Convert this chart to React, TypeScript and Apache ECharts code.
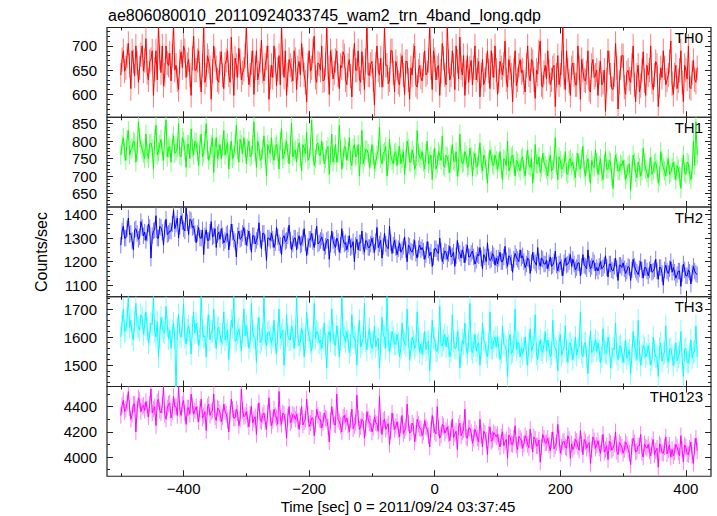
import React, { useEffect, useRef } from "react";
import * as echarts from "echarts";

// time sampling of the light curves (seconds from 2011/09/24 03:37:45)
// *_A samples sit at T_START + k*T_STEP, *_B samples half a step later
const T_START = -500;
const T_STEP = 4;

const TH0_A = [
  640, 690, 655, 705, 612, 668, 700, 625, 682, 648,
  715, 630, 672, 598, 690, 742, 645, 618, 700, 660,
  628, 745, 660, 610, 688, 700, 635, 672, 598, 720,
  650, 690, 605, 742, 640, 668, 590, 700, 655, 625,
  688, 612, 670, 640, 718, 598, 660, 695, 630, 652,
  742, 620, 665, 600, 690, 645, 712, 628, 675, 590,
  660, 700, 618, 680, 742, 635, 598, 672, 650, 690,
  610, 668, 705, 640, 585, 690, 655, 720, 625, 662,
  700, 630, 742, 600, 668, 645, 690, 612, 655, 680,
  620, 672, 595, 705, 650, 632, 688, 610, 742, 640,
  668, 578, 700, 640, 615, 742, 660, 630, 690, 605,
  655, 620, 680, 600, 668, 590, 640, 700, 615, 660,
  628, 690, 645, 742, 610, 672, 655, 598, 705, 640,
  742, 630, 690, 610, 668, 718, 640, 598, 680, 655,
  620, 700, 650, 595, 672, 630, 690, 612, 660, 700,
  600, 668, 640, 710, 615, 655, 585, 690, 630, 672,
  650, 605, 700, 628, 668, 592, 642, 710, 615, 660,
  690, 620, 655, 575, 680, 640, 742, 610, 650, 598,
  665, 620, 700, 590, 650, 628, 690, 605, 672, 640,
  598, 668, 625, 565, 690, 640, 610, 705, 570, 655,
  680, 600, 650, 625, 700, 585, 660, 618, 688, 598,
  640, 700, 610, 668, 575, 655, 690, 620, 640, 710,
  600, 660, 628, 690, 585, 650, 700, 612, 670, 625,
];
const TH0_B = [
  672, 648, 680, 660, 690, 638, 665, 655, 700, 670,
  645, 668, 690, 652, 630, 675, 700, 640, 665, 685,
  680, 650, 630, 668, 655, 690, 662, 640, 675, 650,
  670, 640, 660, 625, 680, 655, 648, 672, 630, 665,
  640, 662, 690, 625, 658, 675, 635, 668, 645, 680,
  660, 640, 690, 655, 630, 670, 648, 660, 700, 635,
  635, 670, 652, 620, 665, 690, 640, 660, 628, 672,
  655, 640, 672, 625, 660, 648, 690, 635, 665, 650,
  628, 662, 655, 690, 632, 670, 640, 660, 688, 630,
  660, 638, 668, 650, 690, 625, 655, 670, 640, 662,
  630, 662, 650, 675, 640, 660, 622, 690, 645, 668,
  625, 660, 640, 668, 630, 655, 680, 620, 648, 635,
  662, 640, 670, 655, 690, 630, 660, 648, 675, 620,
  668, 640, 660, 700, 632, 655, 680, 645, 625, 670,
  655, 630, 668, 640, 620, 660, 648, 690, 635, 650,
  628, 655, 662, 630, 672, 640, 650, 618, 660, 645,
  625, 660, 640, 672, 630, 650, 688, 620, 645, 632,
  648, 630, 660, 640, 620, 665, 635, 690, 628, 655,
  640, 620, 655, 672, 630, 645, 610, 660, 635, 650,
  645, 620, 650, 630, 665, 612, 640, 655, 625, 680,
  615, 645, 632, 660, 620, 640, 605, 650, 628, 660,
  650, 625, 640, 660, 618, 635, 655, 630, 668, 622,
  640, 612, 650, 625, 660, 632, 615, 645, 630, 655,
];

const TH1_A = [
  760, 810, 745, 830, 775, 800, 740, 855, 790, 765,
  820, 750, 795, 720, 845, 770, 805, 745, 860, 780,
  740, 815, 770, 850, 755, 800, 725, 790, 835, 760,
  795, 730, 820, 765, 850, 745, 790, 710, 810, 770,
  750, 830, 780, 720, 800, 760, 845, 740, 790, 810,
  735, 800, 760, 855, 725, 785, 750, 815, 700, 775,
  810, 745, 790, 720, 835, 760, 800, 735, 850, 770,
  740, 795, 715, 780, 825, 750, 860, 730, 790, 760,
  800, 735, 775, 705, 820, 760, 740, 845, 720, 785,
  745, 810, 730, 790, 760, 700, 830, 755, 775, 725,
  790, 720, 760, 840, 735, 770, 700, 805, 745, 765,
  730, 785, 750, 705, 800, 740, 775, 720, 830, 755,
  770, 720, 800, 745, 690, 780, 735, 760, 815, 725,
  755, 710, 790, 740, 700, 820, 735, 770, 725, 780,
  700, 765, 730, 795, 715, 750, 680, 775, 735, 760,
  720, 770, 690, 745, 800, 725, 760, 700, 740, 715,
  755, 700, 775, 725, 680, 790, 735, 710, 765, 730,
  700, 760, 720, 810, 690, 745, 725, 770, 705, 750,
  740, 695, 765, 720, 785, 700, 750, 680, 730, 775,
  705, 750, 690, 770, 720, 740, 665, 760, 715, 735,
  745, 690, 730, 660, 760, 710, 740, 700, 780, 720,
  695, 755, 715, 740, 680, 770, 725, 700, 750, 710,
  740, 690, 720, 665, 760, 705, 735, 690, 800, 855,
];
const TH1_B = [
  790, 770, 805, 760, 780, 795, 768, 810, 775, 750,
  765, 792, 778, 805, 760, 790, 770, 815, 755, 785,
  795, 765, 780, 760, 810, 775, 790, 750, 780, 800,
  770, 790, 755, 800, 775, 760, 810, 780, 750, 790,
  785, 760, 795, 770, 750, 790, 775, 805, 765, 780,
  780, 755, 790, 770, 800, 745, 775, 760, 790, 765,
  760, 785, 770, 800, 750, 780, 765, 790, 755, 775,
  780, 755, 790, 765, 745, 785, 770, 750, 795, 760,
  770, 750, 785, 760, 740, 790, 765, 775, 750, 780,
  770, 745, 780, 755, 790, 760, 735, 775, 765, 750,
  760, 740, 775, 750, 765, 785, 745, 760, 735, 770,
  760, 735, 770, 750, 780, 740, 760, 730, 765, 750,
  740, 765, 735, 760, 750, 720, 770, 745, 730, 760,
  735, 760, 745, 770, 725, 750, 740, 760, 730, 755,
  745, 725, 755, 735, 760, 720, 740, 755, 730, 745,
  740, 720, 750, 730, 715, 755, 735, 745, 725, 750,
  720, 745, 730, 750, 715, 735, 755, 725, 740, 720,
  740, 715, 745, 730, 755, 720, 735, 710, 745, 730,
  715, 740, 725, 750, 720, 735, 710, 745, 725, 740,
  730, 710, 735, 720, 745, 700, 725, 740, 715, 730,
  720, 705, 735, 715, 740, 695, 725, 715, 740, 710,
  725, 705, 735, 720, 700, 740, 715, 730, 705, 725,
  715, 730, 700, 725, 710, 740, 705, 720, 730, 760,
];

const TH2_A = [
  1270, 1350, 1300, 1385, 1320, 1250, 1340, 1295, 1370, 1310,
  1290, 1360, 1215, 1330, 1395, 1300, 1345, 1270, 1380, 1320,
  1330, 1420, 1360, 1300, 1395, 1340, 1430, 1315, 1375, 1350,
  1280, 1345, 1300, 1230, 1335, 1290, 1370, 1310, 1260, 1325,
  1340, 1280, 1315, 1250, 1360, 1295, 1220, 1330, 1300, 1345,
  1270, 1330, 1240, 1310, 1290, 1365, 1255, 1320, 1205, 1300,
  1320, 1260, 1345, 1280, 1230, 1310, 1290, 1355, 1250, 1300,
  1250, 1310, 1275, 1340, 1225, 1295, 1320, 1260, 1350, 1280,
  1305, 1245, 1290, 1210, 1330, 1270, 1300, 1240, 1340, 1275,
  1250, 1310, 1265, 1200, 1295, 1280, 1330, 1240, 1285, 1260,
  1300, 1240, 1345, 1275, 1215, 1320, 1260, 1350, 1235, 1290,
  1230, 1280, 1250, 1305, 1200, 1265, 1240, 1290, 1215, 1270,
  1260, 1210, 1285, 1225, 1180, 1255, 1240, 1300, 1200, 1245,
  1210, 1265, 1225, 1180, 1290, 1235, 1250, 1195, 1270, 1220,
  1245, 1190, 1230, 1260, 1170, 1220, 1280, 1205, 1235, 1185,
  1190, 1240, 1200, 1265, 1180, 1220, 1155, 1235, 1210, 1250,
  1225, 1175, 1215, 1150, 1240, 1195, 1260, 1180, 1210, 1190,
  1170, 1220, 1185, 1245, 1160, 1200, 1140, 1215, 1190, 1230,
  1210, 1165, 1195, 1140, 1230, 1180, 1250, 1170, 1205, 1160,
  1160, 1200, 1175, 1225, 1135, 1190, 1160, 1215, 1120, 1185,
  1195, 1150, 1180, 1120, 1210, 1165, 1145, 1200, 1130, 1175,
  1140, 1190, 1160, 1210, 1125, 1175, 1100, 1185, 1150, 1200,
  1175, 1130, 1160, 1095, 1190, 1140, 1165, 1105, 1180, 1150,
];
const TH2_B = [
  1330, 1300, 1340, 1315, 1290, 1335, 1320, 1305, 1345, 1325,
  1320, 1345, 1310, 1335, 1300, 1350, 1325, 1340, 1315, 1330,
  1360, 1340, 1385, 1350, 1370, 1330, 1365, 1380, 1345, 1320,
  1320, 1300, 1335, 1310, 1290, 1325, 1305, 1340, 1315, 1295,
  1310, 1290, 1320, 1300, 1325, 1285, 1310, 1295, 1320, 1305,
  1300, 1285, 1310, 1275, 1305, 1295, 1320, 1280, 1300, 1290,
  1295, 1280, 1305, 1270, 1300, 1285, 1310, 1290, 1275, 1300,
  1290, 1270, 1300, 1280, 1265, 1295, 1285, 1305, 1275, 1290,
  1285, 1265, 1295, 1275, 1290, 1260, 1285, 1270, 1295, 1280,
  1275, 1260, 1285, 1270, 1250, 1280, 1265, 1290, 1260, 1275,
  1270, 1285, 1260, 1290, 1265, 1275, 1255, 1280, 1270, 1260,
  1255, 1240, 1265, 1250, 1270, 1245, 1260, 1235, 1255, 1250,
  1245, 1230, 1250, 1240, 1220, 1255, 1235, 1245, 1225, 1240,
  1235, 1220, 1240, 1225, 1245, 1215, 1230, 1240, 1220, 1235,
  1220, 1205, 1225, 1215, 1230, 1200, 1220, 1210, 1225, 1215,
  1215, 1200, 1220, 1205, 1225, 1195, 1210, 1220, 1200, 1215,
  1200, 1190, 1210, 1195, 1205, 1185, 1200, 1215, 1190, 1205,
  1195, 1180, 1200, 1185, 1190, 1175, 1195, 1185, 1200, 1180,
  1190, 1175, 1195, 1180, 1185, 1170, 1190, 1180, 1195, 1175,
  1180, 1170, 1185, 1175, 1190, 1165, 1180, 1170, 1185, 1175,
  1170, 1160, 1175, 1165, 1180, 1155, 1170, 1165, 1175, 1160,
  1165, 1155, 1170, 1160, 1175, 1150, 1165, 1160, 1170, 1155,
  1155, 1145, 1160, 1150, 1165, 1140, 1155, 1150, 1160, 1145,
];

const TH3_A = [
  1600, 1700, 1625, 1745, 1660, 1590, 1720, 1635, 1680, 1610,
  1690, 1580, 1650, 1745, 1600, 1530, 1670, 1620, 1710, 1595,
  1560, 1650, 1400, 1680, 1600, 1720, 1575, 1640, 1540, 1690,
  1650, 1570, 1745, 1600, 1530, 1680, 1620, 1700, 1560, 1635,
  1580, 1690, 1610, 1520, 1660, 1745, 1590, 1630, 1550, 1700,
  1640, 1560, 1720, 1600, 1510, 1670, 1590, 1745, 1570, 1620,
  1580, 1660, 1540, 1700, 1610, 1500, 1680, 1590, 1640, 1560,
  1745, 1570, 1630, 1530, 1690, 1600, 1550, 1720, 1620, 1580,
  1560, 1650, 1490, 1620, 1700, 1575, 1640, 1530, 1745, 1600,
  1620, 1545, 1680, 1600, 1500, 1660, 1580, 1720, 1555, 1630,
  1560, 1640, 1590, 1490, 1670, 1600, 1745, 1550, 1620, 1575,
  1610, 1530, 1650, 1580, 1700, 1520, 1600, 1560, 1690, 1545,
  1540, 1620, 1580, 1480, 1660, 1595, 1550, 1710, 1570, 1610,
  1600, 1530, 1680, 1560, 1620, 1490, 1590, 1650, 1540, 1720,
  1545, 1610, 1570, 1500, 1650, 1580, 1530, 1690, 1560, 1600,
  1600, 1520, 1640, 1570, 1460, 1610, 1550, 1700, 1580, 1530,
  1540, 1600, 1500, 1630, 1565, 1680, 1520, 1590, 1545, 1620,
  1590, 1530, 1660, 1560, 1480, 1610, 1550, 1640, 1510, 1580,
  1520, 1600, 1560, 1690, 1530, 1580, 1470, 1620, 1550, 1590,
  1580, 1510, 1630, 1545, 1600, 1490, 1560, 1650, 1520, 1570,
  1510, 1590, 1540, 1470, 1620, 1555, 1660, 1500, 1570, 1530,
  1570, 1500, 1600, 1530, 1460, 1580, 1540, 1640, 1510, 1560,
  1500, 1580, 1530, 1620, 1460, 1560, 1510, 1590, 1545, 1640,
];
const TH3_B = [
  1650, 1620, 1665, 1635, 1610, 1655, 1640, 1625, 1670, 1645,
  1630, 1610, 1645, 1620, 1655, 1600, 1635, 1615, 1640, 1625,
  1620, 1595, 1630, 1610, 1640, 1600, 1625, 1610, 1635, 1615,
  1615, 1595, 1625, 1605, 1640, 1590, 1620, 1600, 1630, 1610,
  1610, 1590, 1625, 1600, 1635, 1585, 1615, 1600, 1620, 1605,
  1605, 1585, 1620, 1595, 1630, 1580, 1610, 1595, 1615, 1600,
  1600, 1580, 1615, 1595, 1625, 1575, 1605, 1590, 1620, 1600,
  1605, 1585, 1610, 1590, 1625, 1580, 1600, 1595, 1615, 1590,
  1595, 1575, 1605, 1585, 1615, 1570, 1600, 1590, 1610, 1585,
  1590, 1570, 1600, 1580, 1610, 1565, 1595, 1585, 1605, 1580,
  1585, 1565, 1595, 1575, 1605, 1560, 1590, 1580, 1600, 1575,
  1580, 1560, 1590, 1570, 1600, 1555, 1585, 1570, 1595, 1575,
  1575, 1555, 1585, 1565, 1595, 1550, 1580, 1570, 1590, 1565,
  1570, 1550, 1585, 1560, 1590, 1545, 1575, 1565, 1585, 1560,
  1570, 1550, 1580, 1560, 1590, 1545, 1575, 1560, 1585, 1565,
  1565, 1545, 1575, 1555, 1585, 1540, 1570, 1555, 1580, 1560,
  1560, 1540, 1575, 1550, 1580, 1540, 1565, 1555, 1575, 1550,
  1560, 1540, 1570, 1550, 1580, 1535, 1565, 1550, 1575, 1555,
  1555, 1535, 1565, 1545, 1575, 1530, 1560, 1545, 1570, 1550,
  1550, 1530, 1560, 1540, 1570, 1525, 1555, 1540, 1565, 1545,
  1545, 1525, 1555, 1535, 1565, 1520, 1550, 1535, 1560, 1540,
  1540, 1520, 1550, 1530, 1560, 1515, 1545, 1530, 1555, 1535,
  1535, 1515, 1545, 1525, 1555, 1510, 1540, 1525, 1550, 1530,
];

const TH0123_A = [
  4330, 4450, 4380, 4520, 4300, 4420, 4200, 4470, 4360, 4410,
  4440, 4320, 4540, 4380, 4250, 4460, 4350, 4560, 4300, 4420,
  4310, 4480, 4400, 4560, 4330, 4450, 4260, 4390, 4500, 4340,
  4400, 4280, 4460, 4330, 4210, 4420, 4360, 4500, 4290, 4380,
  4280, 4420, 4340, 4200, 4460, 4310, 4380, 4250, 4540, 4320,
  4360, 4240, 4400, 4300, 4180, 4430, 4280, 4350, 4220, 4470,
  4250, 4380, 4310, 4520, 4260, 4340, 4150, 4400, 4290, 4330,
  4340, 4220, 4400, 4280, 4460, 4240, 4310, 4170, 4380, 4300,
  4230, 4350, 4300, 4120, 4400, 4260, 4500, 4280, 4200, 4330,
  4310, 4200, 4380, 4250, 4490, 4220, 4300, 4150, 4360, 4270,
  4200, 4320, 4260, 4480, 4180, 4300, 4240, 4100, 4350, 4220,
  4280, 4160, 4330, 4210, 4420, 4190, 4270, 4120, 4300, 4230,
  4170, 4290, 4220, 4080, 4330, 4200, 4400, 4150, 4260, 4190,
  4240, 4130, 4300, 4180, 4060, 4270, 4200, 4380, 4150, 4230,
  4110, 4220, 4150, 4300, 4080, 4190, 4020, 4240, 4140, 4180,
  4180, 4080, 4200, 4120, 3990, 4160, 4100, 4250, 4060, 4150,
  4070, 4170, 4100, 4220, 4040, 4140, 4090, 3960, 4180, 4110,
  4150, 4050, 4200, 4090, 4260, 4030, 4120, 4080, 4170, 3990,
  4060, 4140, 4080, 4210, 4020, 4120, 4100, 3950, 4160, 4070,
  4130, 4030, 4180, 4060, 3980, 4110, 4070, 4200, 4020, 4100,
  4030, 4120, 4060, 3940, 4150, 4040, 4090, 4180, 4000, 4080,
  4100, 4010, 4140, 4050, 3920, 4090, 4030, 4160, 4060, 4000,
  4010, 4100, 4040, 4170, 3960, 4080, 4020, 4120, 3950, 4150,
];
const TH0123_B = [
  4410, 4360, 4430, 4390, 4340, 4420, 4380, 4450, 4400, 4370,
  4380, 4420, 4350, 4400, 4440, 4370, 4410, 4340, 4390, 4430,
  4360, 4400, 4330, 4380, 4420, 4350, 4390, 4340, 4410, 4370,
  4340, 4380, 4310, 4360, 4400, 4330, 4370, 4320, 4390, 4350,
  4320, 4360, 4290, 4340, 4380, 4310, 4350, 4300, 4370, 4330,
  4300, 4340, 4270, 4320, 4360, 4290, 4330, 4280, 4350, 4310,
  4290, 4330, 4260, 4310, 4350, 4280, 4320, 4270, 4340, 4300,
  4285, 4320, 4255, 4300, 4340, 4270, 4310, 4260, 4330, 4295,
  4270, 4310, 4240, 4290, 4320, 4255, 4300, 4250, 4315, 4280,
  4255, 4295, 4225, 4275, 4310, 4240, 4285, 4230, 4300, 4265,
  4235, 4275, 4205, 4255, 4290, 4220, 4265, 4210, 4280, 4245,
  4215, 4255, 4185, 4235, 4270, 4200, 4245, 4190, 4260, 4225,
  4200, 4240, 4170, 4220, 4255, 4185, 4230, 4175, 4245, 4210,
  4185, 4225, 4155, 4205, 4240, 4170, 4215, 4160, 4230, 4195,
  4150, 4190, 4120, 4170, 4205, 4135, 4180, 4125, 4195, 4160,
  4120, 4160, 4090, 4140, 4175, 4105, 4150, 4095, 4165, 4130,
  4105, 4145, 4075, 4125, 4160, 4090, 4135, 4080, 4150, 4115,
  4095, 4135, 4065, 4115, 4150, 4080, 4125, 4070, 4140, 4105,
  4085, 4125, 4055, 4105, 4140, 4070, 4115, 4060, 4130, 4095,
  4070, 4110, 4040, 4090, 4125, 4055, 4100, 4045, 4115, 4080,
  4060, 4100, 4030, 4080, 4115, 4045, 4090, 4035, 4105, 4070,
  4050, 4090, 4020, 4070, 4105, 4035, 4080, 4025, 4095, 4060,
  4040, 4080, 4010, 4060, 4095, 4025, 4070, 4015, 4085, 4050,
];

// typical 1-sigma error bar of each band (counts/sec)
const TH0_ERR = 25;
const TH1_ERR = 27;
const TH2_ERR = 35;
const TH3_ERR = 40;
const TH0123_ERR = 65;

// axis ranges and ticks
const X_MIN = -522;
const X_MAX = 440;
const X_MAJOR = [-400, -200, 0, 200, 400];
const X_MINOR = [-500, -300, -100, 100, 300];

const TH0_MAJOR = [600, 650, 700];
const TH0_MINOR = [560, 570, 580, 590, 610, 620, 630, 640, 660, 670, 680, 690, 710, 720, 730];
const TH1_MAJOR = [650, 700, 750, 800, 850];
const TH1_MINOR = [620, 630, 640, 660, 670, 680, 690, 710, 720, 730, 740, 760, 770, 780, 790, 810, 820, 830, 840, 860];
const TH2_MAJOR = [1100, 1200, 1300, 1400];
const TH2_MINOR = [1060, 1080, 1120, 1140, 1160, 1180, 1220, 1240, 1260, 1280, 1320, 1340, 1360, 1380, 1420];
const TH3_MAJOR = [1500, 1600, 1700];
const TH3_MINOR = [1440, 1460, 1480, 1520, 1540, 1560, 1580, 1620, 1640, 1660, 1680, 1720, 1740];
const TH0123_MAJOR = [4000, 4200, 4400];
const TH0123_MINOR = [3900, 4100, 4300, 4500];

const PANELS = [
  { label: "TH0", color: "#ff0000", light: "#ff7a7a", a: TH0_A, b: TH0_B, err: TH0_ERR, min: 553, max: 738, major: TH0_MAJOR, minor: TH0_MINOR },
  { label: "TH1", color: "#00ff00", light: "#7aff7a", a: TH1_A, b: TH1_B, err: TH1_ERR, min: 612, max: 868, major: TH1_MAJOR, minor: TH1_MINOR },
  { label: "TH2", color: "#0000ff", light: "#7a7aff", a: TH2_A, b: TH2_B, err: TH2_ERR, min: 1051, max: 1432, major: TH2_MAJOR, minor: TH2_MINOR },
  { label: "TH3", color: "#00ffff", light: "#7affff", a: TH3_A, b: TH3_B, err: TH3_ERR, min: 1424, max: 1744, major: TH3_MAJOR, minor: TH3_MINOR },
  { label: "TH0123", color: "#ff00ff", light: "#ff7aff", a: TH0123_A, b: TH0123_B, err: TH0123_ERR, min: 3848, max: 4560, major: TH0123_MAJOR, minor: TH0123_MINOR },
];

const TITLE = "ae806080010_20110924033745_wam2_trn_4band_long.qdp";
const X_NAME = "Time [sec] 0 = 2011/09/24 03:37:45";
const Y_NAME = "Counts/sec";

const FONT = "'Liberation Sans', Arial, Helvetica, sans-serif";
const LEFT = 107;
const PLOT_W = 604;
const TOP0 = 27.5;
const PH = 89.75;
const TICK_COLOR = "#222";

const fmtX = (v: number) => (v < 0 ? "\u2212" + Math.abs(v) : String(v));
const fmtY = (v: number) => String(v);

function xAxis(i: number, pos: string, ticks: number[], len: number, labels: boolean) {
  return {
    type: "value",
    gridIndex: i,
    min: X_MIN,
    max: X_MAX,
    position: pos,
    axisLine: { show: false, onZero: false },
    splitLine: { show: false },
    axisTick: { show: true, inside: true, length: len, customValues: ticks, lineStyle: { color: TICK_COLOR, width: 1 } },
    axisLabel: labels
      ? { show: true, customValues: ticks, formatter: fmtX, margin: 5, color: "#000", fontSize: 15, fontFamily: FONT }
      : { show: false },
  };
}

function yAxis(i: number, p: any, pos: string, ticks: number[], len: number, labels: boolean) {
  return {
    type: "value",
    gridIndex: i,
    min: p.min,
    max: p.max,
    position: pos,
    axisLine: { show: false, onZero: false },
    splitLine: { show: false },
    axisTick: { show: true, inside: true, length: len, customValues: ticks, lineStyle: { color: TICK_COLOR, width: 1 } },
    axisLabel: labels
      ? { show: true, customValues: ticks, formatter: fmtY, margin: 10, color: "#000", fontSize: 15, fontFamily: FONT }
      : { show: false },
  };
}

export default function App() {
  const ref = useRef<HTMLDivElement>(null);

  useEffect(() => {
    if (!ref.current) return;
    const chart = echarts.init(ref.current, undefined, { renderer: "svg" });

    const grids: any[] = [];
    const xAxes: any[] = [];
    const yAxes: any[] = [];
    const series: any[] = [];
    const graphics: any[] = [];

    PANELS.forEach((p, i) => {
      const top = TOP0 + i * PH;
      grids.push({
        left: LEFT,
        top,
        width: PLOT_W,
        height: PH,
        show: true,
        borderColor: "#222",
        borderWidth: 1.2,
        backgroundColor: "transparent",
      });
      const last = i === PANELS.length - 1;
      xAxes.push(xAxis(i, "bottom", X_MAJOR, 6, last));
      xAxes.push(xAxis(i, "bottom", X_MINOR, 3, false));
      xAxes.push(xAxis(i, "top", X_MAJOR, 6, false));
      xAxes.push(xAxis(i, "top", X_MINOR, 3, false));
      yAxes.push(yAxis(i, p, "left", p.major, 6, true));
      yAxes.push(yAxis(i, p, "left", p.minor, 3, false));
      yAxes.push(yAxis(i, p, "right", p.major, 6, false));
      yAxes.push(yAxis(i, p, "right", p.minor, 3, false));

      const data: number[][] = [];
      p.a.forEach((v: number, k: number) => {
        const t = T_START + k * T_STEP;
        data.push([t, v]);
        data.push([t + T_STEP / 2, p.b[k]]);
      });

      // error bars
      series.push({
        type: "custom",
        name: p.label + " err",
        xAxisIndex: i * 4,
        yAxisIndex: i * 4,
        data,
        clip: true,
        z: 1,
        renderItem: (_params: any, api: any) => {
          const x = api.value(0);
          const y = api.value(1);
          const lo = api.coord([x, y - p.err]);
          const hi = api.coord([x, y + p.err]);
          return {
            type: "line",
            shape: { x1: lo[0], y1: lo[1], x2: hi[0], y2: hi[1] },
            style: { stroke: p.light, lineWidth: 1 },
          };
        },
      });

      series.push({
        type: "line",
        name: p.label,
        xAxisIndex: i * 4,
        yAxisIndex: i * 4,
        data,
        showSymbol: false,
        symbol: "none",
        clip: true,
        lineStyle: { color: p.color, width: 1 },
        itemStyle: { color: p.color },
        z: 2,
      });
      graphics.push({
        type: "text",
        style: {
          text: p.label,
          x: 703,
          y: top + 10,
          align: "right",
          verticalAlign: "middle",
          font: `15px ${FONT}`,
          fill: "#000",
        },
        z: 10,
      });
    });

    graphics.push({
      type: "text",
      style: { text: TITLE, x: 108, y: 15.5, align: "left", verticalAlign: "middle", font: `16px ${FONT}`, fill: "#000" },
    });
    graphics.push({
      type: "text",
      style: { text: X_NAME, x: 398, y: 506.5, align: "center", verticalAlign: "middle", font: `15px ${FONT}`, fill: "#000" },
    });
    graphics.push({
      type: "text",
      x: 41,
      y: 252,
      rotation: Math.PI / 2,
      style: { text: Y_NAME, x: 0, y: 0, align: "center", verticalAlign: "middle", font: `16px ${FONT}`, fill: "#000" },
    });

    chart.setOption({
      animation: false,
      backgroundColor: "#ffffff",
      grid: grids,
      xAxis: xAxes,
      yAxis: yAxes,
      series,
      graphic: graphics,
    });

    return () => chart.dispose();
  }, []);

  return (
    <div
      ref={ref}
      style={{ position: "fixed", left: 0, top: 0, width: 717, height: 516, background: "#fff" }}
    />
  );
}
